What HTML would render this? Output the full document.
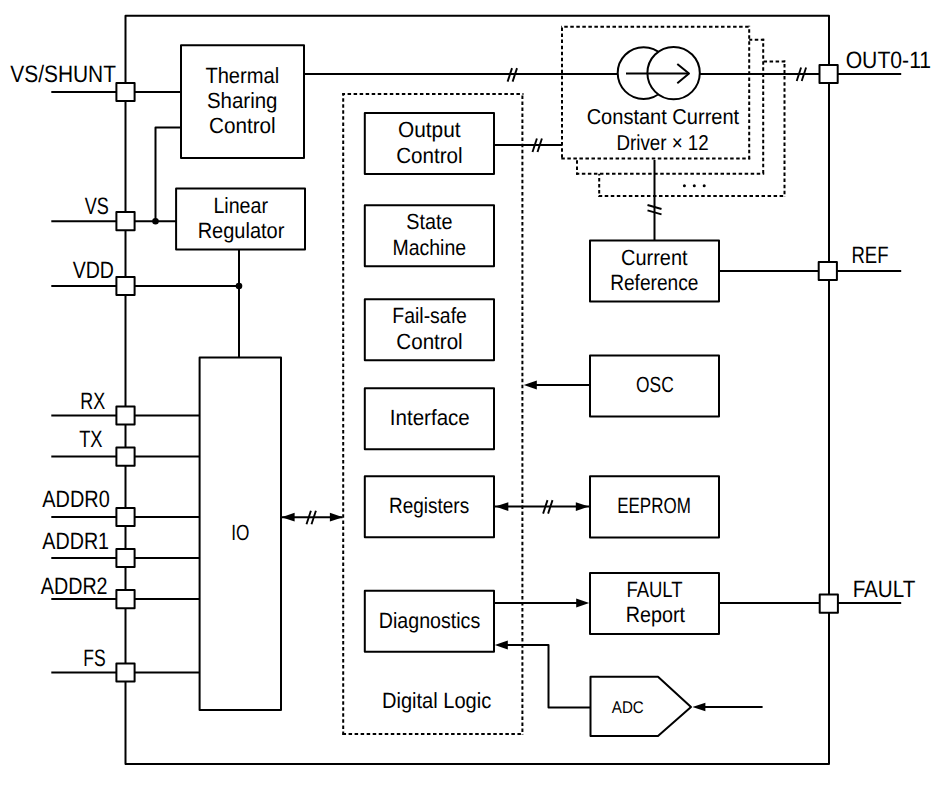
<!DOCTYPE html>
<html><head><meta charset="utf-8"><style>
html,body{margin:0;padding:0;background:#fff;width:936px;height:787px;overflow:hidden}
svg{display:block}
text{font-family:"Liberation Sans",sans-serif;fill:#000;text-rendering:geometricPrecision}
</style></head><body>
<svg width="936" height="787" viewBox="0 0 936 787" stroke="#000" stroke-linecap="butt" stroke-linejoin="round" fill="none">
<g stroke="#000">
<rect x="125.5" y="15.8" width="703.5" height="748.2" fill="none" stroke-width="2"/>
<line x1="51.3" y1="92" x2="125.5" y2="92" stroke-width="2"/>
<line x1="51.3" y1="221.2" x2="125.5" y2="221.2" stroke-width="2"/>
<line x1="51.3" y1="286" x2="125.5" y2="286" stroke-width="2"/>
<line x1="51.3" y1="415.5" x2="125.5" y2="415.5" stroke-width="2"/>
<line x1="51.3" y1="456.6" x2="125.5" y2="456.6" stroke-width="2"/>
<line x1="51.3" y1="517" x2="125.5" y2="517" stroke-width="2"/>
<line x1="51.3" y1="558" x2="125.5" y2="558" stroke-width="2"/>
<line x1="51.3" y1="599.1" x2="125.5" y2="599.1" stroke-width="2"/>
<line x1="51.3" y1="672.5" x2="125.5" y2="672.5" stroke-width="2"/>
<line x1="125.5" y1="92" x2="181" y2="92" stroke-width="2"/>
<line x1="125.5" y1="221.2" x2="176.3" y2="221.2" stroke-width="2"/>
<circle cx="155.5" cy="221.2" r="3.3" fill="#000" stroke="none"/>
<polyline points="155.5,221.2 155.5,127.4 181,127.4" fill="none" stroke-width="2"/>
<line x1="125.5" y1="286" x2="239" y2="286" stroke-width="2"/>
<circle cx="239" cy="286" r="3.3" fill="#000" stroke="none"/>
<line x1="239" y1="249.5" x2="239" y2="357.5" stroke-width="2"/>
<line x1="125.5" y1="415.5" x2="199.6" y2="415.5" stroke-width="2"/>
<line x1="125.5" y1="456.6" x2="199.6" y2="456.6" stroke-width="2"/>
<line x1="125.5" y1="517" x2="199.6" y2="517" stroke-width="2"/>
<line x1="125.5" y1="558" x2="199.6" y2="558" stroke-width="2"/>
<line x1="125.5" y1="599.1" x2="199.6" y2="599.1" stroke-width="2"/>
<line x1="125.5" y1="672.5" x2="199.6" y2="672.5" stroke-width="2"/>
<line x1="829" y1="74" x2="901.2" y2="74" stroke-width="2"/>
<line x1="829" y1="271" x2="901.2" y2="271" stroke-width="2"/>
<line x1="829" y1="603.1" x2="901.2" y2="603.1" stroke-width="2"/>
<rect x="599.2" y="61.5" width="185.29999999999995" height="134.5" fill="#fff" stroke-width="0"/>
<line x1="598.2" y1="61.5" x2="785.5" y2="61.5" stroke-width="2" stroke-dasharray="3.5 2.53" stroke-dashoffset="3.49"/>
<line x1="784.5" y1="60.5" x2="784.5" y2="197" stroke-width="2" stroke-dasharray="3.5 2.53" stroke-dashoffset="2.48"/>
<line x1="598.2" y1="196" x2="785.5" y2="196" stroke-width="2" stroke-dasharray="3.5 2.53" stroke-dashoffset="5.51"/>
<line x1="599.2" y1="60.5" x2="599.2" y2="197" stroke-width="2" stroke-dasharray="3.5 2.53" stroke-dashoffset="3.15"/>
<rect x="577" y="39.7" width="186.20000000000005" height="134.10000000000002" fill="#fff" stroke-width="0"/>
<line x1="576" y1="39.7" x2="764.2" y2="39.7" stroke-width="2" stroke-dasharray="3.5 2.53" stroke-dashoffset="2.12"/>
<line x1="763.2" y1="38.7" x2="763.2" y2="174.8" stroke-width="2" stroke-dasharray="3.5 2.53" stroke-dashoffset="1.48"/>
<line x1="576" y1="173.8" x2="764.2" y2="173.8" stroke-width="2" stroke-dasharray="3.5 2.53" stroke-dashoffset="0.18"/>
<line x1="577" y1="38.7" x2="577" y2="174.8" stroke-width="2" stroke-dasharray="3.5 2.53" stroke-dashoffset="4.98"/>
<rect x="562" y="26.8" width="187.20000000000005" height="131.7" fill="#fff" stroke-width="0"/>
<line x1="561" y1="26.8" x2="750.2" y2="26.8" stroke-width="2" stroke-dasharray="3.5 2.53" stroke-dashoffset="2.78"/>
<line x1="749.2" y1="25.8" x2="749.2" y2="159.5" stroke-width="2" stroke-dasharray="3.5 2.53" stroke-dashoffset="2.68"/>
<line x1="561" y1="158.5" x2="750.2" y2="158.5" stroke-width="2" stroke-dasharray="3.5 2.53" stroke-dashoffset="5.71"/>
<line x1="562" y1="25.8" x2="562" y2="159.5" stroke-width="2" stroke-dasharray="3.5 2.53" stroke-dashoffset="4.28"/>
<line x1="304" y1="74" x2="617.8" y2="74" stroke-width="2"/>
<line x1="700" y1="74" x2="829" y2="74" stroke-width="2"/>
<line x1="507.6" y1="81.6" x2="512.0" y2="68.1" stroke-width="1.9"/>
<line x1="512.6" y1="81.6" x2="517.0" y2="68.1" stroke-width="1.9"/>
<line x1="796.7" y1="81" x2="801.1" y2="67.5" stroke-width="1.9"/>
<line x1="801.7" y1="81" x2="806.1" y2="67.5" stroke-width="1.9"/>
<circle cx="643.6" cy="73.1" r="25.9" fill="#fff" stroke-width="2"/>
<circle cx="673.6" cy="73.1" r="26.2" fill="#fff" stroke-width="2"/>
<line x1="626" y1="73.6" x2="689" y2="73.6" stroke-width="2"/>
<polyline points="677.3,64 689,73.6 677.3,83.3" fill="none" stroke-width="2"/>
<text stroke="none" x="662.9" y="123.8" font-size="21.6" text-anchor="middle" textLength="152.5" lengthAdjust="spacingAndGlyphs">Constant Current</text>
<text stroke="none" x="662.6" y="149.8" font-size="21.6" text-anchor="middle" textLength="92.2" lengthAdjust="spacingAndGlyphs">Driver × 12</text>
<circle cx="684.4" cy="185.8" r="1.5" fill="#000" stroke="none"/>
<circle cx="694.3" cy="185.8" r="1.5" fill="#000" stroke="none"/>
<circle cx="704.2" cy="185.8" r="1.5" fill="#000" stroke="none"/>
<line x1="494" y1="145" x2="562.2" y2="145" stroke-width="2"/>
<line x1="532.5" y1="152" x2="536.9" y2="138.5" stroke-width="1.9"/>
<line x1="537.5" y1="152" x2="541.9" y2="138.5" stroke-width="1.9"/>
<line x1="654.5" y1="160" x2="654.5" y2="240.6" stroke-width="2"/>
<line x1="647.5" y1="205" x2="661.5" y2="209" stroke-width="1.9"/>
<line x1="647.5" y1="210.4" x2="661.5" y2="214.4" stroke-width="1.9"/>
<rect x="181" y="45.3" width="123" height="112.7" fill="#fff" stroke-width="2"/>
<text stroke="none" x="242.3" y="83.0" font-size="22" text-anchor="middle" textLength="73.8" lengthAdjust="spacingAndGlyphs">Thermal</text>
<text stroke="none" x="242.2" y="108.0" font-size="22" text-anchor="middle" textLength="70.5" lengthAdjust="spacingAndGlyphs">Sharing</text>
<text stroke="none" x="242.3" y="133.39999999999998" font-size="22" text-anchor="middle" textLength="66.7" lengthAdjust="spacingAndGlyphs">Control</text>
<rect x="176.1" y="188.6" width="128.9" height="60.900000000000006" fill="#fff" stroke-width="2"/>
<text stroke="none" x="240.7" y="212.79999999999998" font-size="22" text-anchor="middle" textLength="54.6" lengthAdjust="spacingAndGlyphs">Linear</text>
<text stroke="none" x="241.0" y="237.79999999999998" font-size="22" text-anchor="middle" textLength="86.7" lengthAdjust="spacingAndGlyphs">Regulator</text>
<rect x="199.6" y="357.5" width="81.4" height="352.5" fill="#fff" stroke-width="2"/>
<text stroke="none" x="240.3" y="540.2" font-size="22" text-anchor="middle" textLength="18.2" lengthAdjust="spacingAndGlyphs">IO</text>
<line x1="342.3" y1="94" x2="523.5" y2="94" stroke-width="2" stroke-dasharray="3.5 2.53" stroke-dashoffset="0.75"/>
<line x1="522.4" y1="93" x2="522.4" y2="735" stroke-width="2" stroke-dasharray="3.5 2.53" stroke-dashoffset="3.62"/>
<line x1="342.3" y1="734" x2="523.5" y2="734" stroke-width="2" stroke-dasharray="3.5 2.53" stroke-dashoffset="5.78"/>
<line x1="343.2" y1="93" x2="343.2" y2="735" stroke-width="2" stroke-dasharray="3.5 2.53" stroke-dashoffset="0.75"/>
<text stroke="none" x="436.6" y="707.9000000000001" font-size="22" text-anchor="middle" textLength="109.3" lengthAdjust="spacingAndGlyphs">Digital Logic</text>
<rect x="364.8" y="112.9" width="129.2" height="61.099999999999994" fill="#fff" stroke-width="2"/>
<text stroke="none" x="429.3" y="137.2" font-size="22" text-anchor="middle" textLength="62.6" lengthAdjust="spacingAndGlyphs">Output</text>
<text stroke="none" x="429.4" y="162.6" font-size="22" text-anchor="middle" textLength="66.4" lengthAdjust="spacingAndGlyphs">Control</text>
<rect x="364.8" y="205.2" width="129.2" height="61.10000000000002" fill="#fff" stroke-width="2"/>
<text stroke="none" x="429.4" y="228.7" font-size="22" text-anchor="middle" textLength="46.2" lengthAdjust="spacingAndGlyphs">State</text>
<text stroke="none" x="429.3" y="254.5" font-size="22" text-anchor="middle" textLength="73.6" lengthAdjust="spacingAndGlyphs">Machine</text>
<rect x="364.8" y="299.2" width="129.2" height="61.10000000000002" fill="#fff" stroke-width="2"/>
<text stroke="none" x="429.6" y="323.0" font-size="22" text-anchor="middle" textLength="74.5" lengthAdjust="spacingAndGlyphs">Fail-safe</text>
<text stroke="none" x="429.5" y="349.0" font-size="22" text-anchor="middle" textLength="66.3" lengthAdjust="spacingAndGlyphs">Control</text>
<rect x="364.8" y="388.3" width="129.2" height="61.0" fill="#fff" stroke-width="2"/>
<text stroke="none" x="429.8" y="425.2" font-size="22" text-anchor="middle" textLength="79.9" lengthAdjust="spacingAndGlyphs">Interface</text>
<rect x="364.8" y="476.2" width="129.2" height="61.099999999999966" fill="#fff" stroke-width="2"/>
<text stroke="none" x="429.1" y="513.2" font-size="22" text-anchor="middle" textLength="80.1" lengthAdjust="spacingAndGlyphs">Registers</text>
<rect x="364.8" y="590.8" width="129.2" height="61.0" fill="#fff" stroke-width="2"/>
<text stroke="none" x="429.5" y="627.6" font-size="22" text-anchor="middle" textLength="101.4" lengthAdjust="spacingAndGlyphs">Diagnostics</text>
<line x1="282" y1="517.2" x2="342.5" y2="517.2" stroke-width="2"/>
<polygon points="281.6,517.2 294.6,512.8000000000001 294.6,521.6" fill="#000" stroke="none"/>
<polygon points="342.9,517.2 329.9,512.8000000000001 329.9,521.6" fill="#000" stroke="none"/>
<line x1="306.5" y1="524.2" x2="310.9" y2="510.70000000000005" stroke-width="1.9"/>
<line x1="311.5" y1="524.2" x2="315.9" y2="510.70000000000005" stroke-width="1.9"/>
<rect x="590" y="240.6" width="129" height="61.00000000000003" fill="#fff" stroke-width="2"/>
<text stroke="none" x="654.3" y="265.2" font-size="22" text-anchor="middle" textLength="66.4" lengthAdjust="spacingAndGlyphs">Current</text>
<text stroke="none" x="654.3" y="289.9" font-size="22" text-anchor="middle" textLength="88.2" lengthAdjust="spacingAndGlyphs">Reference</text>
<line x1="719" y1="271" x2="829" y2="271" stroke-width="2"/>
<rect x="590" y="355.6" width="129" height="60.89999999999998" fill="#fff" stroke-width="2"/>
<text stroke="none" x="654.9" y="391.59999999999997" font-size="22" text-anchor="middle" textLength="37.7" lengthAdjust="spacingAndGlyphs">OSC</text>
<line x1="530" y1="385" x2="590" y2="385" stroke-width="2"/>
<polygon points="523.8,385 536.8,380.6 536.8,389.4" fill="#000" stroke="none"/>
<rect x="590" y="476.3" width="129" height="61.19999999999999" fill="#fff" stroke-width="2"/>
<text stroke="none" x="654.0" y="513.0" font-size="22" text-anchor="middle" textLength="73.7" lengthAdjust="spacingAndGlyphs">EEPROM</text>
<line x1="495" y1="506.6" x2="589" y2="506.6" stroke-width="2"/>
<polygon points="495.3,506.6 508.3,502.20000000000005 508.3,511.0" fill="#000" stroke="none"/>
<polygon points="588.8,506.6 575.8,502.20000000000005 575.8,511.0" fill="#000" stroke="none"/>
<line x1="543.1" y1="513.6" x2="547.5" y2="500.1" stroke-width="1.9"/>
<line x1="548.1" y1="513.6" x2="552.5" y2="500.1" stroke-width="1.9"/>
<rect x="590" y="572.9" width="129" height="61.10000000000002" fill="#fff" stroke-width="2"/>
<text stroke="none" x="654.5" y="596.7" font-size="22" text-anchor="middle" textLength="56.1" lengthAdjust="spacingAndGlyphs">FAULT</text>
<text stroke="none" x="655.4" y="622.4000000000001" font-size="22" text-anchor="middle" textLength="59.3" lengthAdjust="spacingAndGlyphs">Report</text>
<line x1="494" y1="603" x2="580" y2="603" stroke-width="2"/>
<polygon points="589.2,603 576.2,598.6 576.2,607.4" fill="#000" stroke="none"/>
<line x1="719" y1="603" x2="829" y2="603" stroke-width="2"/>
<polygon points="590.5,676.7 658,676.7 691,707 658,735.9 590.5,735.9" fill="#fff" stroke-width="2"/>
<text stroke="none" x="627.8" y="712.8" font-size="17" text-anchor="middle" textLength="32.0" lengthAdjust="spacingAndGlyphs">ADC</text>
<line x1="700" y1="707" x2="762.6" y2="707" stroke-width="2"/>
<polygon points="692.4,707 705.4,702.7 705.4,711.3" fill="#000" stroke="none"/>
<polyline points="590.5,707.5 548.5,707.5 548.5,645 503,645" fill="none" stroke-width="2"/>
<polygon points="494.8,645 507.8,640.6 507.8,649.4" fill="#000" stroke="none"/>
<rect x="116.4" y="82.9" width="18.19999999999999" height="18.19999999999999" fill="#fff" stroke-width="2"/>
<rect x="116.4" y="212.1" width="18.19999999999999" height="18.200000000000017" fill="#fff" stroke-width="2"/>
<rect x="116.4" y="276.9" width="18.19999999999999" height="18.200000000000045" fill="#fff" stroke-width="2"/>
<rect x="116.4" y="406.4" width="18.19999999999999" height="18.200000000000045" fill="#fff" stroke-width="2"/>
<rect x="116.4" y="447.5" width="18.19999999999999" height="18.19999999999999" fill="#fff" stroke-width="2"/>
<rect x="116.4" y="507.9" width="18.19999999999999" height="18.200000000000045" fill="#fff" stroke-width="2"/>
<rect x="116.4" y="548.9" width="18.19999999999999" height="18.200000000000045" fill="#fff" stroke-width="2"/>
<rect x="116.4" y="590.0" width="18.19999999999999" height="18.200000000000045" fill="#fff" stroke-width="2"/>
<rect x="116.4" y="663.4" width="18.19999999999999" height="18.200000000000045" fill="#fff" stroke-width="2"/>
<rect x="819.5" y="64.9" width="18.200000000000045" height="18.19999999999999" fill="#fff" stroke-width="2"/>
<rect x="818.7" y="261.9" width="18.199999999999932" height="18.200000000000045" fill="#fff" stroke-width="2"/>
<rect x="819.7" y="594.5" width="18.199999999999932" height="18.200000000000045" fill="#fff" stroke-width="2"/>
<text stroke="none" x="63.1" y="81.9" font-size="23.8" text-anchor="middle" textLength="105.7" lengthAdjust="spacingAndGlyphs">VS/SHUNT</text>
<text stroke="none" x="96.8" y="213.8" font-size="23.8" text-anchor="middle" textLength="24.1" lengthAdjust="spacingAndGlyphs">VS</text>
<text stroke="none" x="93.3" y="278.3" font-size="23.8" text-anchor="middle" textLength="41.3" lengthAdjust="spacingAndGlyphs">VDD</text>
<text stroke="none" x="92.8" y="409.1" font-size="23.8" text-anchor="middle" textLength="24.9" lengthAdjust="spacingAndGlyphs">RX</text>
<text stroke="none" x="90.9" y="446.8" font-size="23.8" text-anchor="middle" textLength="23.4" lengthAdjust="spacingAndGlyphs">TX</text>
<text stroke="none" x="76.0" y="507.2" font-size="23.8" text-anchor="middle" textLength="67.4" lengthAdjust="spacingAndGlyphs">ADDR0</text>
<text stroke="none" x="75.7" y="548.6" font-size="23.8" text-anchor="middle" textLength="66.7" lengthAdjust="spacingAndGlyphs">ADDR1</text>
<text stroke="none" x="74.2" y="594.4" font-size="23.8" text-anchor="middle" textLength="66.7" lengthAdjust="spacingAndGlyphs">ADDR2</text>
<text stroke="none" x="94.5" y="666.2" font-size="23.8" text-anchor="middle" textLength="22.4" lengthAdjust="spacingAndGlyphs">FS</text>
<text stroke="none" x="888.4" y="68" font-size="23.8" text-anchor="middle" textLength="85.5" lengthAdjust="spacingAndGlyphs">OUT0-11</text>
<text stroke="none" x="870.0" y="263.2" font-size="23.8" text-anchor="middle" textLength="37.1" lengthAdjust="spacingAndGlyphs">REF</text>
<text stroke="none" x="884.0" y="596.7" font-size="23.8" text-anchor="middle" textLength="62.7" lengthAdjust="spacingAndGlyphs">FAULT</text>
</g>
</svg>
</body></html>
